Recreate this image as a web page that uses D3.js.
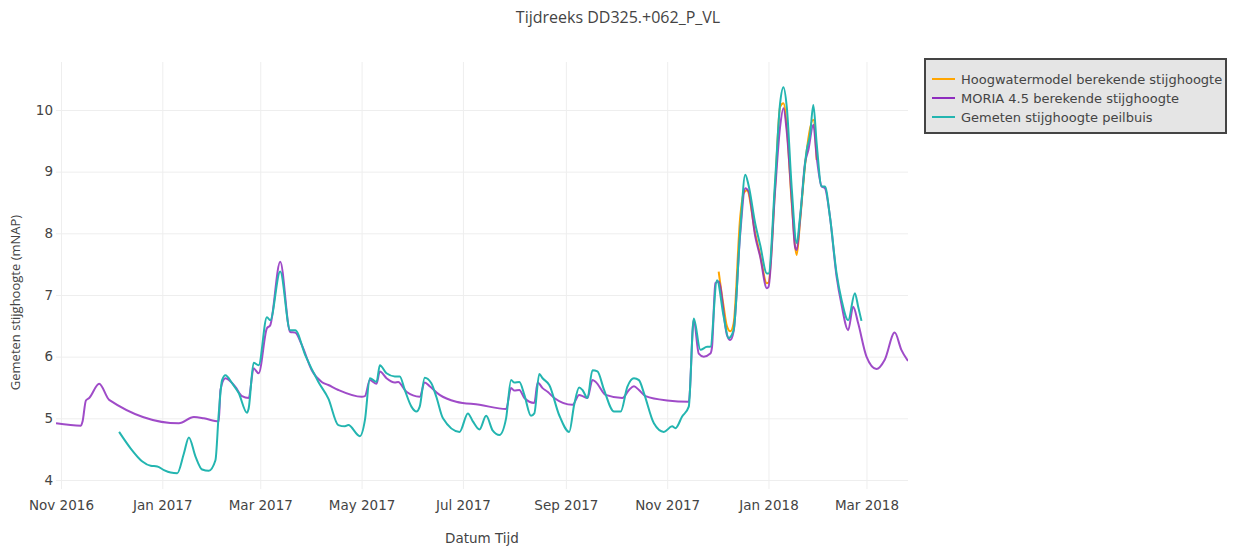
<!DOCTYPE html>
<html>
<head>
<meta charset="utf-8">
<script src="https://cdn.jsdelivr.net/npm/d3@7"></script>
<style>
  body { margin: 0; background: #fff; }
  svg { display: block; }
  text { font-family: "DejaVu Sans", Verdana, sans-serif; fill: #444; }
</style>
</head>
<body>
<svg id="chart" width="1236" height="552"></svg>
<script>
// Series names and colours, in drawing order
const seriesNames = [
  "Hoogwatermodel berekende stijghoogte",
  "MORIA 4.5 berekende stijghoogte",
  "Gemeten stijghoogte peilbuis"
];
const seriesColors = ["#ffa500", "#8e2cbe", "#23b5b0"];

// Hoogwatermodel: computed head (mNAP)
const hoogwater = [
  ["2017-12-02",7.38],["2017-12-05",6.81],["2017-12-07",6.49],["2017-12-09",6.41],["2017-12-11",6.54],
  ["2017-12-15",8.27],["2017-12-17",8.65],["2017-12-19",8.70],["2017-12-24",8.00],["2017-12-27",7.65],
  ["2017-12-31",7.19],["2018-01-01",7.20],["2018-01-05",8.76],["2018-01-08",10.05],["2018-01-10",10.11],
  ["2018-01-12",9.73],["2018-01-15",8.49],["2018-01-18",7.65],["2018-01-20",8.19],["2018-01-23",9.10],
  ["2018-01-28",9.84],["2018-01-30",9.19]
];

// MORIA 4.5: computed head (mNAP)
const moria = [
  ["2016-10-29",4.92],["2016-11-13",4.88],["2016-11-14",4.95],["2016-11-16",5.29],["2016-11-18",5.33],
  ["2016-11-24",5.56],["2016-11-30",5.30],["2017-01-11",4.92],["2017-01-20",5.02],["2017-01-26",5.00],
  ["2017-02-04",4.95],["2017-02-05",5.46],["2017-02-08",5.65],["2017-02-14",5.51],["2017-02-18",5.36],
  ["2017-02-22",5.33],["2017-02-25",5.81],["2017-02-28",5.73],["2017-03-05",6.46],["2017-03-07",6.51],
  ["2017-03-13",7.54],["2017-03-19",6.40],["2017-03-22",6.39],["2017-03-26",6.19],["2017-04-01",5.78],
  ["2017-04-07",5.59],["2017-04-11",5.54],["2017-04-17",5.46],["2017-05-01",5.35],["2017-05-03",5.36],
  ["2017-05-06",5.62],["2017-05-10",5.56],["2017-05-12",5.76],["2017-05-16",5.65],["2017-05-21",5.58],
  ["2017-05-23",5.59],["2017-05-28",5.43],["2017-06-05",5.35],["2017-06-08",5.58],["2017-06-11",5.52],
  ["2017-06-17",5.38],["2017-06-27",5.27],["2017-07-11",5.22],["2017-07-27",5.15],["2017-07-30",5.49],
  ["2017-08-01",5.45],["2017-08-04",5.46],["2017-08-07",5.33],["2017-08-13",5.25],["2017-08-15",5.58],
  ["2017-08-18",5.49],["2017-08-21",5.43],["2017-08-25",5.33],["2017-09-05",5.22],["2017-09-09",5.38],
  ["2017-09-11",5.36],["2017-09-14",5.33],["2017-09-17",5.62],["2017-09-19",5.59],["2017-09-25",5.38],
  ["2017-10-05",5.33],["2017-10-09",5.46],["2017-10-12",5.52],["2017-10-15",5.46],["2017-10-19",5.36],
  ["2017-11-01",5.29],["2017-11-14",5.27],["2017-11-17",6.60],["2017-11-20",6.05],["2017-11-23",6.00],
  ["2017-11-27",6.05],["2017-11-28",6.16],["2017-11-30",7.19],["2017-12-02",7.22],["2017-12-07",6.35],
  ["2017-12-09",6.27],["2017-12-11",6.41],["2017-12-15",8.00],["2017-12-18",8.73],["2017-12-20",8.68],
  ["2017-12-24",7.95],["2017-12-27",7.62],["2017-12-31",7.11],["2018-01-01",7.13],["2018-01-05",8.70],
  ["2018-01-08",9.73],["2018-01-10",10.03],["2018-01-12",9.65],["2018-01-15",8.54],["2018-01-17",7.78],
  ["2018-01-18",7.73],["2018-01-20",8.22],["2018-01-23",9.14],["2018-01-25",9.35],["2018-01-28",9.76],
  ["2018-01-30",9.24],["2018-02-02",8.76],["2018-02-04",8.73],["2018-02-07",8.27],["2018-02-11",7.30],
  ["2018-02-14",6.84],["2018-02-18",6.43],["2018-02-21",6.81],["2018-02-24",6.54],["2018-03-01",6.00],
  ["2018-03-07",5.80],["2018-03-12",5.95],["2018-03-18",6.39],["2018-03-22",6.11],["2018-03-26",5.93]
];

// Measured head in the observation well (mNAP)
const gemeten = [
  ["2016-12-06",4.78],["2016-12-13",4.51],["2016-12-20",4.30],["2016-12-25",4.23],["2016-12-29",4.22],
  ["2017-01-02",4.16],["2017-01-06",4.12],["2017-01-10",4.11],["2017-01-14",4.43],["2017-01-17",4.69],
  ["2017-01-21",4.38],["2017-01-25",4.17],["2017-01-29",4.15],["2017-02-02",4.32],["2017-02-04",5.08],
  ["2017-02-06",5.62],["2017-02-08",5.70],["2017-02-12",5.57],["2017-02-16",5.41],["2017-02-21",5.09],
  ["2017-02-22",5.16],["2017-02-25",5.90],["2017-02-28",5.86],["2017-03-05",6.64],["2017-03-07",6.59],
  ["2017-03-13",7.38],["2017-03-19",6.43],["2017-03-22",6.43],["2017-03-28",6.03],["2017-04-05",5.59],
  ["2017-04-11",5.32],["2017-04-17",4.89],["2017-04-21",4.87],["2017-04-23",4.89],["2017-04-30",4.71],
  ["2017-05-03",4.97],["2017-05-06",5.65],["2017-05-10",5.59],["2017-05-12",5.86],["2017-05-16",5.73],
  ["2017-05-21",5.68],["2017-05-24",5.68],["2017-05-27",5.46],["2017-05-31",5.19],["2017-06-03",5.11],
  ["2017-06-05",5.19],["2017-06-08",5.66],["2017-06-12",5.57],["2017-06-15",5.35],["2017-06-19",5.00],
  ["2017-06-29",4.78],["2017-07-04",5.08],["2017-07-07",4.95],["2017-07-11",4.82],["2017-07-15",5.04],
  ["2017-07-19",4.80],["2017-07-23",4.73],["2017-07-27",5.00],["2017-07-30",5.62],["2017-08-01",5.58],
  ["2017-08-04",5.59],["2017-08-07",5.38],["2017-08-11",5.04],["2017-08-13",5.08],["2017-08-16",5.72],
  ["2017-08-18",5.65],["2017-08-22",5.54],["2017-08-28",5.05],["2017-09-03",4.78],["2017-09-06",5.22],
  ["2017-09-09",5.50],["2017-09-11",5.46],["2017-09-14",5.33],["2017-09-17",5.78],["2017-09-20",5.76],
  ["2017-09-24",5.46],["2017-09-30",5.11],["2017-10-04",5.11],["2017-10-08",5.51],["2017-10-12",5.65],
  ["2017-10-15",5.62],["2017-10-18",5.41],["2017-10-24",4.92],["2017-10-30",4.78],["2017-11-04",4.87],
  ["2017-11-06",4.84],["2017-11-10",5.03],["2017-11-14",5.19],["2017-11-17",6.62],["2017-11-21",6.11],
  ["2017-11-25",6.16],["2017-11-27",6.16],["2017-12-01",7.24],["2017-12-05",6.65],["2017-12-08",6.30],
  ["2017-12-11",6.43],["2017-12-15",8.05],["2017-12-18",8.95],["2017-12-20",8.78],["2017-12-24",8.16],
  ["2017-12-27",7.81],["2017-12-31",7.35],["2018-01-01",7.35],["2018-01-05",8.86],["2018-01-08",10.11],
  ["2018-01-10",10.37],["2018-01-12",10.05],["2018-01-15",8.73],["2018-01-18",7.84],["2018-01-20",8.27],
  ["2018-01-24",9.35],["2018-01-26",9.59],["2018-01-28",10.08],["2018-01-30",9.46],["2018-02-02",8.76],
  ["2018-02-04",8.76],["2018-02-07",8.27],["2018-02-11",7.35],["2018-02-14",6.92],["2018-02-18",6.59],
  ["2018-02-22",7.03],["2018-02-24",6.81],["2018-02-26",6.58]
];

// Axis ticks
const xTickDates = ["2016-11-01","2017-01-01","2017-03-01","2017-05-01","2017-07-01",
                    "2017-09-01","2017-11-01","2018-01-01","2018-03-01"];
const yTickValues = [4, 5, 6, 7, 8, 9, 10];
const yExtent = [3.854, 10.778];

const titleText = "Tijdreeks DD325.+062_P_VL";
const xTitle = "Datum Tijd";
const yTitle = "Gemeten stijghoogte (mNAP)";

const parse = d3.timeParse("%Y-%m-%d");
const allSeries = [hoogwater, moria, gemeten].map(s => s.map(([d, v]) => ({ date: parse(d), value: v })));

const svg = d3.select("#chart");
const W = 1236, H = 552;
const margin = { top: 62, right: 328, bottom: 63, left: 56 };
const iw = W - margin.left - margin.right;
const ih = H - margin.top - margin.bottom;

const x = d3.scaleTime()
  .domain(d3.extent(allSeries.flat(), d => d.date))
  .range([0, iw]);
const y = d3.scaleLinear().domain(yExtent).range([ih, 0]);

const g = svg.append("g").attr("transform", `translate(${margin.left},${margin.top})`);

// Grid
const gridX = g.append("g")
  .attr("transform", `translate(0,${ih})`)
  .call(d3.axisBottom(x).tickValues(xTickDates.map(parse)).tickSize(-ih).tickFormat(""));
const gridY = g.append("g")
  .call(d3.axisLeft(y).tickValues(yTickValues).tickSize(-iw).tickFormat(""));
[gridX, gridY].forEach(a => {
  a.select(".domain").remove();
  a.selectAll("line").attr("stroke", "#eeeeee").attr("stroke-width", 1);
});

// Axis labels
const fmt = d3.timeFormat("%b %Y");
const axX = g.append("g")
  .attr("transform", `translate(0,${ih})`)
  .call(d3.axisBottom(x).tickValues(xTickDates.map(parse)).tickSize(0).tickPadding(11).tickFormat(fmt));
const axY = g.append("g")
  .call(d3.axisLeft(y).tickValues(yTickValues).tickSize(0).tickPadding(3).tickFormat(d3.format("d")));
[axX, axY].forEach(a => {
  a.select(".domain").remove();
  a.selectAll("text").style("font-family", '"DejaVu Sans", Verdana, sans-serif')
    .style("font-size", "13.5px").attr("fill", "#444");
});

// Lines
const line = d3.line()
  .x(d => x(d.date))
  .y(d => y(d.value))
  .curve(d3.curveMonotoneX);

svg.append("clipPath").attr("id", "plotclip")
  .append("rect").attr("x", 0).attr("y", 0).attr("width", iw).attr("height", ih);

g.append("g").attr("clip-path", "url(#plotclip)")
  .selectAll("path")
  .data(allSeries)
  .join("path")
  .attr("d", line)
  .attr("fill", "none")
  .attr("stroke", (d, i) => seriesColors[i])
  .attr("stroke-width", 2)
  .attr("stroke-opacity", (d, i) => i === 1 ? 0.85 : 1)
  .attr("stroke-linejoin", "round");

// Title
svg.append("text")
  .attr("x", W / 2).attr("y", 23)
  .attr("text-anchor", "middle")
  .style("font-family", '"Open Sans", sans-serif')
  .style("font-size", "16px")
  .text(titleText);

// Axis titles
svg.append("text")
  .attr("x", margin.left + iw / 2).attr("y", 543)
  .attr("text-anchor", "middle")
  .style("font-size", "13.5px")
  .text(xTitle);

svg.append("text")
  .attr("transform", `translate(20,${margin.top + ih / 2 + 27}) rotate(-90)`)
  .attr("text-anchor", "middle")
  .style("font-family", '"Open Sans", sans-serif')
  .style("font-size", "13px")
  .text(yTitle);

// Legend
const lg = svg.append("g").attr("transform", "translate(925,59)");
lg.append("rect")
  .attr("width", 301).attr("height", 74)
  .attr("fill", "#e5e5e5").attr("stroke", "#444").attr("stroke-width", 2);
const items = lg.selectAll("g.item").data(seriesNames).join("g")
  .attr("class", "item")
  .attr("transform", (d, i) => `translate(0,${20 + i * 19})`);
items.append("line")
  .attr("x1", 7).attr("x2", 30)
  .attr("stroke", (d, i) => seriesColors[i]).attr("stroke-width", 2);
items.append("text")
  .attr("x", 36).attr("dy", "0.35em")
  .style("font-size", "13px")
  .text(d => d);
</script>
</body>
</html>
